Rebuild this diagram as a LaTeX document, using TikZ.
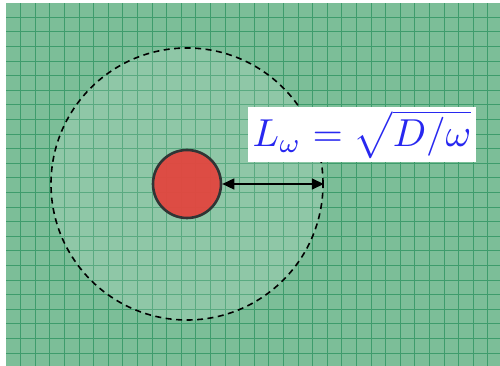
\documentclass[tikz,border=0pt]{standalone}
\usepackage{graphicx}
\usepackage{xcolor}
\usepackage{tikz}
\usetikzlibrary{arrows.meta, positioning}
\definecolor{fond}{HTML}{7CBE98}
\definecolor{grille}{HTML}{3E9C6C}
\definecolor{rouge}{HTML}{E2463F}
\definecolor{bord}{HTML}{303535}
\definecolor{bleu}{HTML}{2828F0}
\tikzset{
  lignegrille/.style={draw=grille, line width=1.1pt},
  zone/.style={circle, draw=black, dash pattern=on 6pt off 4.5pt, line width=1.6pt,
    fill=white, fill opacity=0.15, minimum size=272pt, inner sep=0pt},
  source/.style={circle, draw=bord, line width=2.6pt, fill=rouge, fill opacity=0.95,
    draw opacity=1, minimum size=68pt, inner sep=0pt},
  fleche/.style={{Triangle[length=12pt, width=11pt]}-{Triangle[length=12pt, width=11pt]}, line width=1.5pt},
  formule/.style={fill=white, text=bleu, minimum width=228pt, minimum height=55pt,
    inner sep=0pt},
}

\begin{document}
\begin{tikzpicture}[x=1pt, y=1pt]
    \useasboundingbox (0,0) rectangle (500,366);
    \fill[fond] (6,0) rectangle (500,363);
    % grid
    \foreach \x in {20.7,35.3,...,500} \draw[lignegrille] (\x,0) -- (\x,363);
    \foreach \y in {12.9,27.5,...,363} \draw[lignegrille] (6,\y) -- (500,\y);

    \node[zone] (zone) at (187,182) {};
    \node[source] (source) at (187,182) {};
    \node[formule] (formule) at (362,231.5) {\scalebox{3.9}{$L_\omega = \sqrt{D/\omega}$}};

    \draw[fleche] (source.east) -- (zone.east);
  \end{tikzpicture}
\end{document}
